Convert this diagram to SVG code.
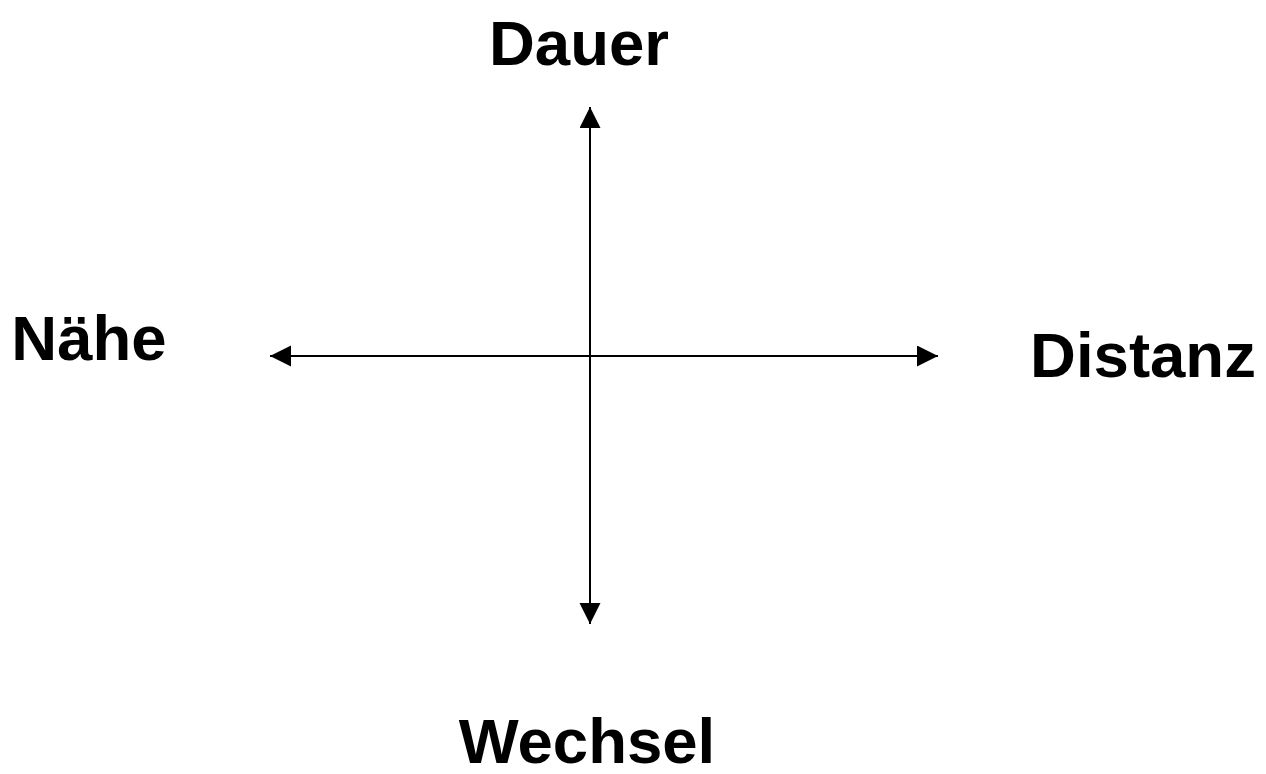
<svg xmlns="http://www.w3.org/2000/svg" width="1266" height="774" viewBox="0 0 1266 774">
<style>
.lbl{font-family:"Liberation Sans",Arial,sans-serif;font-weight:bold;font-size:63.5px;fill:#000;text-anchor:middle}
.ax{stroke:#000;stroke-width:2;fill:none}
</style>
<defs>
<marker id="ah" markerUnits="userSpaceOnUse" markerWidth="24" markerHeight="24" refX="21" refY="10.5" orient="auto">
<path d="M0,0 L21,10.5 L0,21 Z" fill="#000"/>
</marker>
</defs>
<rect width="1266" height="774" fill="#fff"/>
<g id="connectors">
<line class="ax" x1="590" y1="356" x2="590" y2="107" marker-end="url(#ah)"/>
<line class="ax" x1="590" y1="356" x2="590" y2="624" marker-end="url(#ah)"/>
<line class="ax" x1="590" y1="356" x2="270" y2="356" marker-end="url(#ah)"/>
<line class="ax" x1="590" y1="356" x2="938" y2="356" marker-end="url(#ah)"/>
</g>
<g id="dauer"><text class="lbl" x="579" y="65">Dauer</text></g>
<g id="wechsel"><text class="lbl" x="587" y="763">Wechsel</text></g>
<g id="naehe"><text class="lbl" x="89" y="360">Nähe</text></g>
<g id="distanz"><text class="lbl" x="1143" y="377">Distanz</text></g>
</svg>
